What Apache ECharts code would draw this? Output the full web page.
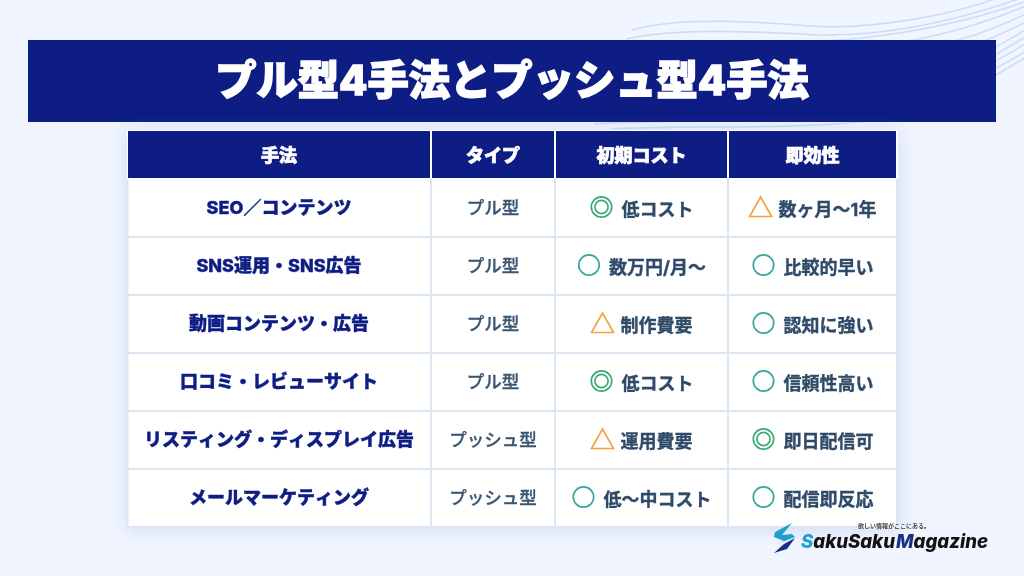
<!DOCTYPE html>
<html><head><meta charset="utf-8">
<style>html,body{margin:0;padding:0;background:#f0f5ff}#c{width:1024px;height:576px}</style>
<script src="https://cdn.jsdelivr.net/npm/echarts@6/dist/echarts.min.js"></script></head>
<body><div id="c"></div>
<script>
const title = "プル型4手法とプッシュ型4手法";
const headers = ["手法","タイプ","初期コスト","即効性"];
const methods = ["SEO／コンテンツ","SNS運用・SNS広告","動画コンテンツ・広告","口コミ・レビューサイト","リスティング・ディスプレイ広告","メールマーケティング"];
const types = ["プル型","プル型","プル型","プル型","プッシュ型","プッシュ型"];
const costMarks = ["double","circle","triangle","double","triangle","circle"];
const costTexts = ["低コスト","数万円/月〜","制作費要","低コスト","運用費要","低〜中コスト"];
const speedMarks = ["triangle","circle","circle","circle","double","circle"];
const speedTexts = ["数ヶ月〜1年","比較的早い","認知に強い","信頼性高い","即日配信可","配信即反応"];

const FONT = 'Inter,"Noto Sans CJK JP","Noto Sans",sans-serif';
const NAVY = "#0e1d83", INK = "#2f4a68", LINE = "#dce6f3";
const colX = [[128,430],[432,554],[556,727],[729,896]];
const chart = echarts.init(document.getElementById('c'),null,{renderer:'canvas'});
const g = [];
const txt=(x,y,t,size,weight,fill,sw)=>g.push({type:'text',x,y,z:5,style:Object.assign({text:t,fill,font:`${weight} ${size}px ${FONT}`,align:'center',verticalAlign:'middle'},sw?{stroke:fill,lineWidth:sw}:{})});
const rect=(x,y,w,h,fill,extra)=>g.push({type:'rect',shape:{x,y,width:w,height:h},z:2,style:Object.assign({fill},extra||{})});

// background waves: cubic segments x1,y1,cp1x,cp1y,cp2x,cp2y,x2,y2
const waves=[
 [632,30,680,16,760,22,810,26],[810,26,870,30,950,16,1000,-3],
 [626,39,680,27,760,32,820,35],[820,35,890,36,960,20,1024,-3],
 [760,42,830,44,930,36,1030,0],
 [890,44,930,38,975,28,1030,4],
 [920,48,950,44,985,34,1030,12],
 [940,56,965,50,990,40,1030,20],
 [950,66,975,60,995,48,1030,27],
 [950,74,975,68,995,55,1030,34],
 [950,80,975,74,995,62,1030,41],
 [950,88,975,82,995,69,1030,49],
 [950,96,975,90,995,75,1030,55],
 [594,124,620,122,650,122,690,121],
 [612,129,680,125,790,130,868,121]
];
waves.forEach(w=>g.push({type:'bezierCurve',z:1,shape:{x1:w[0],y1:w[1],cpx1:w[2],cpy1:w[3],cpx2:w[4],cpy2:w[5],x2:w[6],y2:w[7]},style:{fill:'none',stroke:'#cadef8',lineWidth:1.6}}));

rect(28,40,968,82,NAVY);
txt(512,83,title,41.3,800,'#fff',1.5);

rect(127,130,771,397,'#fff',{shadowBlur:18,shadowColor:'rgba(120,150,200,.28)',shadowOffsetX:0,shadowOffsetY:2});
headers.forEach((h,i)=>{
  const [a,b]=colX[i];
  rect(a,131,b-a,47,NAVY);
  txt((a+b)/2,157,h,18,800,'#fff',0.7);
});
[430,554,727].forEach(x=>rect(x,179,2,348,LINE));
[237,295,353,411,469].forEach(y=>rect(128,y-1,770,2,LINE));
rect(896,179,2,348,LINE);
rect(127,179,1.5,348,LINE);
rect(127,526,771,1.5,LINE);

const ctx=document.createElement('canvas').getContext('2d');
function mark(kind,cx,cy){
  if(kind==='triangle'){
    g.push({type:'polygon',z:5,shape:{points:[[cx,cy-10],[cx+11,cy+9.5],[cx-11,cy+9.5]]},style:{fill:'none',stroke:'#f4a340',lineWidth:1.7}});
  } else if(kind==='circle'){
    g.push({type:'circle',z:5,shape:{cx,cy,r:10.2},style:{fill:'none',stroke:'#3aa59a',lineWidth:1.7}});
  } else {
    g.push({type:'circle',z:5,shape:{cx,cy,r:10.2},style:{fill:'none',stroke:'#3eaa78',lineWidth:1.7}});
    g.push({type:'circle',z:5,shape:{cx,cy,r:6.6},style:{fill:'none',stroke:'#3eaa78',lineWidth:1.7}});
  }
}
function markCell(kind,t,col,cy){
  const [a,b]=colX[col];
  ctx.font=`700 18px ${FONT}`;
  const w=ctx.measureText(t).width, mw=22, gap=kind==='triangle'?7:9;
  const left=(a+b)/2-(mw+gap+w)/2+0.5;
  mark(kind,left+mw/2,cy-2);
  txt(left+mw+gap+w/2,cy+2,t,18,700,INK,0.35);
}
methods.forEach((m,i)=>{
  const c=207+58*i;
  txt(279,c+2,m,18,800,NAVY,0.4);
  txt(493,c+2,types[i],17.5,500,'#3a5570',0.3);
  markCell(costMarks[i],costTexts[i],2,c+2);
  markCell(speedMarks[i],speedTexts[i],3,c+2);
});

// logo
g.push({type:'polygon',z:6,shape:{points:[[792,523],[775,532],[774,537],[784,541],[777,544],[795,537],[792,534],[782,535]]},style:{fill:'#1fa0c8'}});
g.push({type:'polygon',z:6,shape:{points:[[795,538],[787,549],[774,553],[784,544]]},style:{fill:'#1c2f86'}});
const LOGO=`italic 800 18.6px Inter,"Noto Sans",sans-serif`;
function logoPiece(x,parts){
  ctx.font=LOGO;
  parts.forEach(([t,c])=>{
    g.push({type:'text',x,y:542,z:6,style:{text:t,fill:c,font:LOGO,align:'left',verticalAlign:'middle'}});
    x+=ctx.measureText(t).width;
  });
}
logoPiece(801,[["S","#1fa0c8"],["akuSaku","#111"]]);
logoPiece(896,[["M","#1c2f86"],["agazine","#111"]]);
txt(894,526.5,"欲しい情報がここにある。",6,500,'#222');

chart.setOption({animation:false,backgroundColor:'#f0f5ff',graphic:{elements:g}});
</script></body></html>
